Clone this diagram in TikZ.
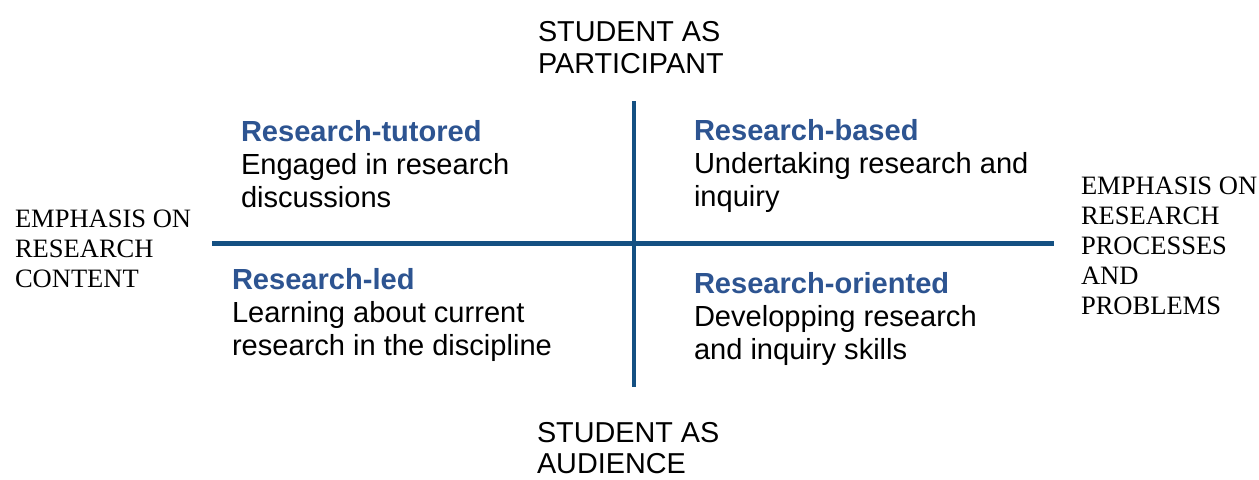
\documentclass[tikz,border=0pt]{standalone}
\usepackage{fontspec}
\setmainfont{Liberation Sans}
\newfontfamily\timesfont{Liberation Serif}
\definecolor{axisblue}{RGB}{20,80,130}
\definecolor{titleblue}{RGB}{45,84,145}
\newcommand{\stack}[1]{\vtop{\halign{##\hfil\cr#1\crcr}}}
\tikzset{
  lbl/.style={anchor=base west, inner sep=0pt, outer sep=0pt},
  axislbl/.style={lbl, font=\fontsize{21.6}{24}\selectfont},
  sidelbl/.style={lbl, font=\timesfont\fontsize{19.9}{22.6}\selectfont},
  quad/.style={lbl, font=\fontsize{21.8}{24.75}\selectfont},
  axis/.style={draw=axisblue, line width=3.4pt}
}
\begin{document}
\begin{tikzpicture}[x=0.75pt,y=-0.75pt]
\useasboundingbox (0,0) rectangle (1259,479);
% axes
\coordinate (vtop) at (634,101);
\coordinate (vbot) at (634,387);
\coordinate (hl) at (212,243.5);
\coordinate (hr) at (1054,243.5);
\draw[axis] (vtop) -- (vbot);
\draw[axis] (hl) -- (hr);
% axis labels
\node[axislbl] (top) at (538,41.5) {\stack{STUDENT AS\cr PARTICIPANT}};
\node[axislbl, font=\fontsize{21.6}{23.25}\selectfont] (bottom) at (537,442) {\stack{STUDENT AS\cr AUDIENCE}};
\node[sidelbl] (left) at (15,227) {\stack{EMPHASIS ON\cr RESEARCH\cr CONTENT}};
\node[sidelbl] (right) at (1081,194) {\stack{EMPHASIS ON\cr RESEARCH\cr PROCESSES\cr AND\cr PROBLEMS}};
% quadrants
\node[quad] (tl) at (241,141.5) {\stack{\textcolor{titleblue}{\bfseries Research-tutored}\cr Engaged in research\cr discussions}};
\node[quad] (bl) at (232,289.5) {\stack{\textcolor{titleblue}{\bfseries Research-led}\cr Learning about current\cr research in the discipline}};
\node[quad] (tr) at (694,140.5) {\stack{\textcolor{titleblue}{\bfseries Research-based}\cr Undertaking research and\cr inquiry}};
\node[quad] (br) at (694,293.5) {\stack{\textcolor{titleblue}{\bfseries Research-oriented}\cr Developping research\cr and inquiry skills}};
\end{tikzpicture}
\end{document}
